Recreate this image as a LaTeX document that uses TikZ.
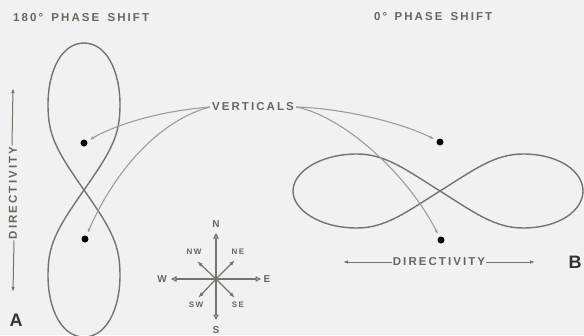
\documentclass[tikz,border=0pt]{standalone}
\usepackage{fontspec}
\setmainfont{Liberation Sans}
\newfontfamily\lbl[LetterSpace=18]{Liberation Sans}
\usetikzlibrary{arrows.meta}
\definecolor{bg}{HTML}{F1F1F1}
\definecolor{ink}{HTML}{77736A}
\definecolor{lead}{HTML}{A19C92}
\definecolor{txt}{HTML}{6A665E}
\definecolor{bold}{HTML}{333230}
\tikzset{
  curve8/.style={draw=ink, line width=1.4pt},
  leader/.style={draw=lead, line width=1.1pt, -{Latex[length=5pt,width=3pt]}},
  dot/.style={circle, fill=black, inner sep=0pt, minimum size=7pt, outer sep=2.5pt},
  lab/.style={text=txt, font=\lbl\bfseries\fontsize{11.5}{12}\selectfont, inner sep=1pt},
  small/.style={text=txt, font=\lbl\bfseries\fontsize{8}{9}\selectfont, inner sep=0.5pt},
  cardinal/.style={text=txt, font=\lbl\bfseries\fontsize{10}{11}\selectfont, inner sep=0.5pt},
  big/.style={text=bold, font=\bfseries\fontsize{18}{18}\selectfont, inner sep=0pt},
  dirarrow/.style={draw=ink, line width=1pt, -{Latex[length=5pt,width=3.5pt]}},
  openarrow/.style={draw=ink, line width=1.2pt, -{Triangle[open,length=5.5pt,width=5.5pt]}},
  filledarrow/.style={draw=ink, line width=1.2pt, -{Latex[length=6pt,width=4pt]}}
}
\begin{document}
\begin{tikzpicture}[x=1pt,y=-1pt]
\fill[bg] (0,0) rectangle (584,335);
\useasboundingbox (0,0) rectangle (584,335);
\begin{scope}
\clip (0,0) rectangle (584,335);
% figure A (vertical figure eight)
\draw[curve8] (84,190) .. controls (112,150) and (120,135) .. (120,105)
  .. controls (120,70) and (106,43) .. (84,43)
  .. controls (62,43) and (48,70) .. (48,105)
  .. controls (48,135) and (56,150) .. (84,190)
  .. controls (112,230) and (120,245) .. (120,275)
  .. controls (120,310) and (106,337) .. (84,337)
  .. controls (62,337) and (48,310) .. (48,275)
  .. controls (48,245) and (56,230) .. (84,190) -- cycle;
% figure B (horizontal figure eight)
\draw[curve8] (440,191) .. controls (405,213) and (385,228) .. (357,228)
  .. controls (320,228) and (293,210) .. (293,191)
  .. controls (293,172) and (320,154) .. (357,154)
  .. controls (385,154) and (405,169) .. (440,191)
  .. controls (475,213) and (495,228) .. (523,228)
  .. controls (560,228) and (583,210) .. (583,191)
  .. controls (583,172) and (560,154) .. (523,154)
  .. controls (495,154) and (475,169) .. (440,191) -- cycle;
\end{scope}
% titles
\node[lab, anchor=west] (t1) at (12,18) {180°\hspace{3pt} PHASE\hspace{3pt} SHIFT};
\node[lab, anchor=west] (t2) at (373,17) {0°\hspace{2pt} PHASE\hspace{3pt} SHIFT};
% dots
\node[dot] (a1) at (84,143) {};
\node[dot] (a2) at (85,239) {};
\node[dot] (b1) at (440,142) {};
\node[dot] (b2) at (441,240) {};
% verticals
\node[lab] (vert) at (253,107) {VERTICALS};
\draw[leader] ([xshift=-1pt]vert.west) .. controls (150,112) and (110,128) .. (a1);
\draw[leader] ([xshift=-1pt]vert.west) .. controls (160,120) and (115,170) .. (a2);
\draw[leader] ([xshift=1pt]vert.east) .. controls (340,108) and (400,122) .. (b1);
\draw[leader] ([xshift=1pt]vert.east) .. controls (340,115) and (405,170) .. (b2);
% directivity A
\node[lab, rotate=90] (dA) at (13,193) {DIRECTIVITY};
\coordinate (dAt) at (13,88);
\coordinate (dAb) at (13,292);
\draw[dirarrow] ([xshift=-1pt]dA.east) -- (dAt);
\draw[dirarrow] ([xshift=1pt]dA.west) -- (dAb);
% directivity B
\node[lab] (dB) at (439,262) {DIRECTIVITY};
\coordinate (dBl) at (343,262);
\coordinate (dBr) at (535,262);
\draw[dirarrow] (dB.west) -- (dBl);
\draw[dirarrow] (dB.east) -- (dBr);
% letters
\node[big] (A) at (16,320) {A};
\node[big] (B) at (575,262) {B};
% compass
\coordinate (c) at (216,279);
\node[cardinal] (N) at (216,224) {N};
\node[cardinal] (S) at (216,330) {S};
\node[cardinal] (W) at (162,279) {W};
\node[cardinal] (E) at (267,279) {E};
\node[small] (NW) at (194,252) {NW};
\node[small] (NE) at (238,252) {NE};
\node[small] (SW) at (196,305) {SW};
\node[small] (SE) at (238,305) {SE};
\coordinate (tN) at (216,233);
\coordinate (tS) at (216,320);
\coordinate (tW) at (171,279);
\coordinate (tE) at (261,279);
\coordinate (tNW) at (197,261);
\coordinate (tNE) at (235,260);
\coordinate (tSW) at (198,298);
\coordinate (tSE) at (235,298);
\draw[openarrow] (c) -- (tN);
\draw[openarrow] (c) -- (tS);
\draw[openarrow] (c) -- (tW);
\draw[openarrow] (c) -- (tE);
\draw[filledarrow] (c) -- (tNW);
\draw[filledarrow] (c) -- (tNE);
\draw[filledarrow] (c) -- (tSW);
\draw[filledarrow] (c) -- (tSE);
\fill[ink] (c) circle (2pt);
\end{tikzpicture}
\end{document}
